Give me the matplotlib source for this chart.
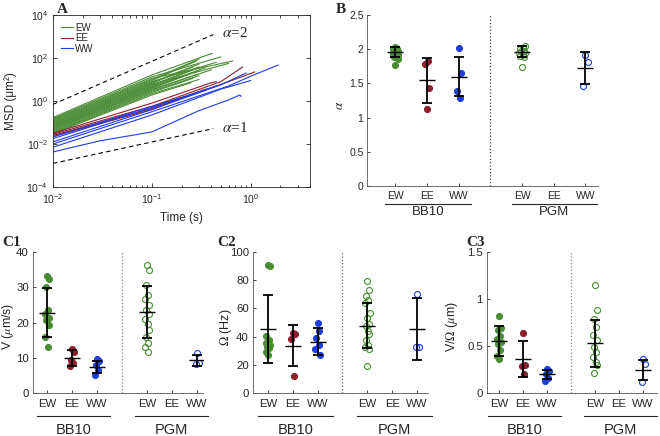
import matplotlib.pyplot as plt
import numpy as np
from matplotlib.ticker import FuncFormatter, NullLocator

plt.rcParams['font.family'] = ['Liberation Sans', 'DejaVu Sans']
plt.rcParams['mathtext.fontset'] = 'stix'
dark = '#262626'
for k in ['text.color', 'axes.labelcolor', 'xtick.color', 'ytick.color', 'axes.edgecolor']:
    plt.rcParams[k] = dark

GREEN = '#4a8c34'
RED = '#8c1f2b'
BLUE = '#1f3de0'

# ---- panel A: MSD traces (log10 MSD at breakpoints)
ew_start = [-0.77, -0.82, -0.86, -0.9, -0.94, -0.98, -1.02, -1.06, -1.1, -1.13,
            -1.17, -1.2, -1.24, -1.28, -1.31, -1.35, -1.4, -1.44, -1.48, -1.52]
ew_mid = [1.21, 1.12, 1.05, 1.0, 0.95, 0.9, 0.86, 0.82, 0.78, 0.74,
          0.7, 0.66, 0.62, 0.58, 0.54, 0.5, 0.45, 0.4, 0.34, 0.28]
ew_tend = [0.41, 0.5, 0.66, 0.3, 0.28, 0.45, 0.3, 0.26, 0.6, 0.3,
           0.28, 0.35, 0.3, 0.25, 0.4, 0.28, 0.3, 0.26, 0.3, 0.25]
ew_end = [2.22, 2.05, 1.86, 1.95, 1.85, 1.8, 1.72, 1.58, 1.75, 1.58,
          1.5, 1.55, 1.42, 1.28, 1.45, 1.22, 1.18, 1.05, 1.0, 0.85]

ee_traces = [
    ([0.01, 0.1, 0.4, 0.45], [-1.5, -0.1, 0.85, 0.9]),
    ([0.01, 0.1, 0.5, 0.83], [-1.55, -0.25, 0.9, 1.58]),
    ([0.01, 0.1, 0.6, 1.1], [-1.6, -0.35, 0.9, 1.35]),
    ([0.01, 0.1, 0.35], [-1.65, -0.4, 0.55]),
]
ww_traces = [
    ([0.01, 0.03, 0.1, 0.3, 0.6, 0.78, 0.8], [-2.37, -1.85, -1.44, -0.45, 0.05, 0.28, 0.22]),
    ([0.01, 0.1, 0.5, 1.0], [-2.15, -0.65, 0.55, 0.95]),
    ([0.01, 0.1, 0.6, 1.0, 1.9], [-2.0, -0.5, 0.7, 1.15, 1.67]),
    ([0.01, 0.1, 0.5, 0.9], [-1.9, -0.4, 0.75, 1.3]),
    ([0.01, 0.1, 0.45], [-1.75, -0.3, 0.7]),
    ([0.01, 0.1, 0.35], [-1.67, -0.25, 0.5]),
]
ref_t = [0.01, 0.42]
ref_a2 = [0.7, 1230]
ref_a1 = [0.00125, 0.052]

# ---- dot panels: columns BB10 EW, EE, WW, PGM EW, WW
col_x = [1, 2, 3, 5, 7]
col_colors = [GREEN, RED, BLUE, GREEN, BLUE]
col_filled = [True, True, True, False, False]
cat_x = [1, 2, 3, 5, 6, 7]
cat_labels = ['EW', 'EE', 'WW', 'EW', 'EE', 'WW']

alpha_vals = [
    [1.77, 1.85, 1.88, 1.9, 1.91, 1.92, 1.93, 1.94, 1.95, 1.96, 1.97, 1.98, 1.99, 2.0, 2.01, 2.03],
    [1.13, 1.44, 1.78, 1.83],
    [2.02, 1.65, 1.39, 1.29],
    [1.74, 1.88, 1.9, 1.92, 1.94, 1.95, 1.97, 1.98, 2.0, 2.02, 2.05],
    [1.92, 1.82, 1.46],
]
alpha_mean = [1.96, 1.545, 1.6, 1.96, 1.73]
alpha_sd = [0.075, 0.325, 0.28, 0.08, 0.235]

v_vals = [
    [33.1, 32.2, 30.0, 23.5, 22.3, 21.4, 20.6, 19.2, 15.9, 13.1],
    [12.6, 11.6, 9.3, 8.5, 7.6],
    [9.7, 9.1, 7.9, 6.4, 5.0],
    [36.4, 35.0, 30.7, 27.8, 26.7, 25.0, 23.6, 22.3, 21.0, 19.6, 17.9, 15.8, 14.1, 13.1, 11.7],
    [11.4, 8.5, 8.1],
]
v_mean = [22.8, 10.0, 7.4, 22.9, 9.3]
v_sd = [6.85, 2.2, 1.7, 7.4, 1.5]

om_vals = [
    [91.0, 89.8, 40.4, 37.5, 35.2, 34.0, 32.8, 31.6, 29.2, 26.8],
    [42.3, 41.6, 38.0, 11.9],
    [49.4, 43.9, 38.7, 34.0, 31.4, 26.8],
    [79.1, 73.2, 69.1, 66.0, 63.7, 56.5, 53.0, 48.9, 47.5, 44.2, 41.8, 37.5, 34.0, 32.8, 31.5, 19.2],
    [70.3, 32.8, 32.3],
]
om_mean = [45.6, 33.5, 36.3, 47.7, 45.2]
om_sd = [24.0, 14.5, 9.5, 16.0, 22.0]

vo_vals = [
    [0.82, 0.69, 0.67, 0.61, 0.57, 0.54, 0.52, 0.46, 0.39, 0.36],
    [0.64, 0.30, 0.29, 0.20],
    [0.26, 0.23, 0.20, 0.16, 0.13],
    [1.15, 0.88, 0.79, 0.705, 0.62, 0.56, 0.49, 0.44, 0.385, 0.33, 0.30, 0.21],
    [0.36, 0.31, 0.12],
]
vo_mean = [0.55, 0.36, 0.20, 0.53, 0.245]
vo_sd = [0.16, 0.195, 0.05, 0.25, 0.11]

jit = [0.0, 0.07, -0.06, 0.04, -0.09, 0.09, -0.03, 0.06, -0.07, 0.02, 0.08, -0.05, 0.03, -0.08, 0.05, -0.02]

W, H = 660, 436
fig = plt.figure(figsize=(W / 100, H / 100), dpi=100)


def rect(l, b, r, t):
    return [l / W, 1 - b / H, (r - l) / W, (b - t) / H]


# ---------------- A
ax = fig.add_axes(rect(53, 187, 310, 15))
for i in range(len(ew_start)):
    t = [0.01, 0.1, ew_tend[i]]
    m = 10 ** np.array([ew_start[i], ew_mid[i], ew_end[i]])
    h_ew, = ax.plot(t, m, color=GREEN, lw=0.8)
for t, m in ee_traces:
    h_ee, = ax.plot(t, 10 ** np.array(m), color=RED, lw=0.8)
for t, m in ww_traces:
    h_ww, = ax.plot(t, 10 ** np.array(m), color=BLUE, lw=0.8)
ax.plot(ref_t, ref_a2, color='k', lw=0.8, dashes=(4, 3))
ax.plot(ref_t, ref_a1, color='k', lw=0.8, dashes=(4, 3))
ax.text(0.52, 10 ** 3.16, r'$\alpha$=2', family='Liberation Serif', fontsize=11, va='center')
ax.text(0.52, 10 ** -1.26, r'$\alpha$=1', family='Liberation Serif', fontsize=11, va='center')
ax.set_xscale('log')
ax.set_yscale('log')
ax.set_xlim(0.01, 4)
ax.set_ylim(1e-4, 1e4)
ax.set_yticks([1e-4, 1e-2, 1e0, 1e2, 1e4])
ax.yaxis.set_minor_locator(NullLocator())
ax.set_xticks([1e-2, 1e-1, 1e0])
ax.tick_params(which='both', direction='in', top=True, right=True, labelsize=7.5, width=0.6)
ax.tick_params(which='major', length=3)
ax.tick_params(which='minor', length=1.8)
ax.set_xlabel('Time (s)', fontsize=8.5)
ax.set_ylabel('MSD (μm²)', fontsize=8.5)
ax.xaxis.set_label_coords(0.5, -0.145)
ax.yaxis.set_label_coords(-0.14, 0.5)
for s in ax.spines.values():
    s.set_linewidth(0.6)
ax.legend([h_ew, h_ee, h_ww], ['EW', 'EE', 'WW'], loc='upper left', bbox_to_anchor=(0.0, 1.0),
          frameon=False, fontsize=7, handlelength=1.3, handletextpad=0.2, labelspacing=0.05,
          borderpad=0.3)


def dot_panel(r, vals, means, sds, ylim, yticks, xlim, ylabel, ylab_x, tick_fs, grp_fs, lab_fs,
              line_y, text_y, grp_lines, pad, sep_color):
    ax = fig.add_axes(r)
    for x, v, c, f in zip(col_x, vals, col_colors, col_filled):
        xs = [x + jit[i % len(jit)] for i in range(len(v))]
        ax.plot(xs, v, 'o', ms=4.3, mfc=c if f else 'none', mec=c, mew=0.8, ls='none', zorder=2)
    ax.errorbar(col_x, means, yerr=sds, fmt='none', ecolor='k', elinewidth=1.3, capsize=3.5,
                capthick=1.3, zorder=3)
    ax.plot(col_x, means, '_', color='k', ms=11, mew=1.0, zorder=3)
    ax.axvline(4, color=sep_color, ls=':', lw=0.9)
    ax.set_xlim(*xlim)
    ax.set_ylim(*ylim)
    ax.set_yticks(yticks)
    ax.yaxis.set_major_formatter(FuncFormatter(lambda v, p: '%g' % v))
    ax.set_xticks(cat_x)
    ax.set_xticklabels(cat_labels)
    ax.spines['top'].set_visible(False)
    ax.spines['right'].set_visible(False)
    for s in ax.spines.values():
        s.set_linewidth(0.6)
        s.set_color('#555555')
    ax.tick_params(direction='in', length=2.5, width=0.6, labelsize=tick_fs, pad=pad)
    ax.tick_params(axis='y', pad=pad - 1)
    ax.set_ylabel(ylabel, fontsize=lab_fs)
    ax.yaxis.set_label_coords(ylab_x, 0.47)
    tr = ax.get_xaxis_transform()
    for (x0, x1), name in zip(grp_lines, ['BB10', 'PGM']):
        ax.plot([x0, x1], [line_y, line_y], color=dark, lw=0.8, transform=tr, clip_on=False)
        ax.text((x0 + x1) / 2, text_y, name, transform=tr, ha='center', va='center', fontsize=grp_fs)
    return ax


dot_panel(rect(367, 186, 598, 15), alpha_vals, alpha_mean, alpha_sd, (0, 2.5),
          [0, 0.5, 1, 1.5, 2, 2.5], (0.1, 7.4), r'$\alpha$', -0.091, 7.5, 9.5, 9.5,
          -0.105, -0.152, [(0.66, 3.38), (4.67, 7.38)], 3.5, '#444444')
dot_panel(rect(33, 393, 203, 252), v_vals, v_mean, v_sd, (0, 40), [0, 10, 20, 30, 40],
          (0.44, 7.24), r'V ($\mu$m/s)', -0.1, 8.2, 10.5, 8.8,
          -0.163, -0.262, [(0.6, 3.52), (4.52, 7.44)], 4, '#888888')
dot_panel(rect(253, 393, 428, 252), om_vals, om_mean, om_sd, (0, 100), [0, 20, 40, 60, 80, 100],
          (0.4, 7.44), r'$\Omega$ (Hz)', -0.108, 8.2, 10.5, 9.0,
          -0.163, -0.262, [(0.6, 3.6), (4.6, 7.6)], 4, '#666666')
dot_panel(rect(487, 393, 657, 252), vo_vals, vo_mean, vo_sd, (0, 1.5), [0, 0.5, 1, 1.5],
          (0.5, 7.58), r'V/$\Omega$ ($\mu$m)', -0.159, 8.2, 10.5, 9.0,
          -0.163, -0.262, [(0.54, 3.6), (4.54, 7.6)], 4, '#888888')

for txt, x, y in [('A', 57, 3), ('B', 336, 3), ('C1', 2, 236), ('C2', 217, 236), ('C3', 466, 236)]:
    fig.text(x / W, 1 - y / H, txt, family='Liberation Serif', fontweight='bold', fontsize=11,
             va='top', ha='left')

fig.savefig('out.png', dpi=100)
